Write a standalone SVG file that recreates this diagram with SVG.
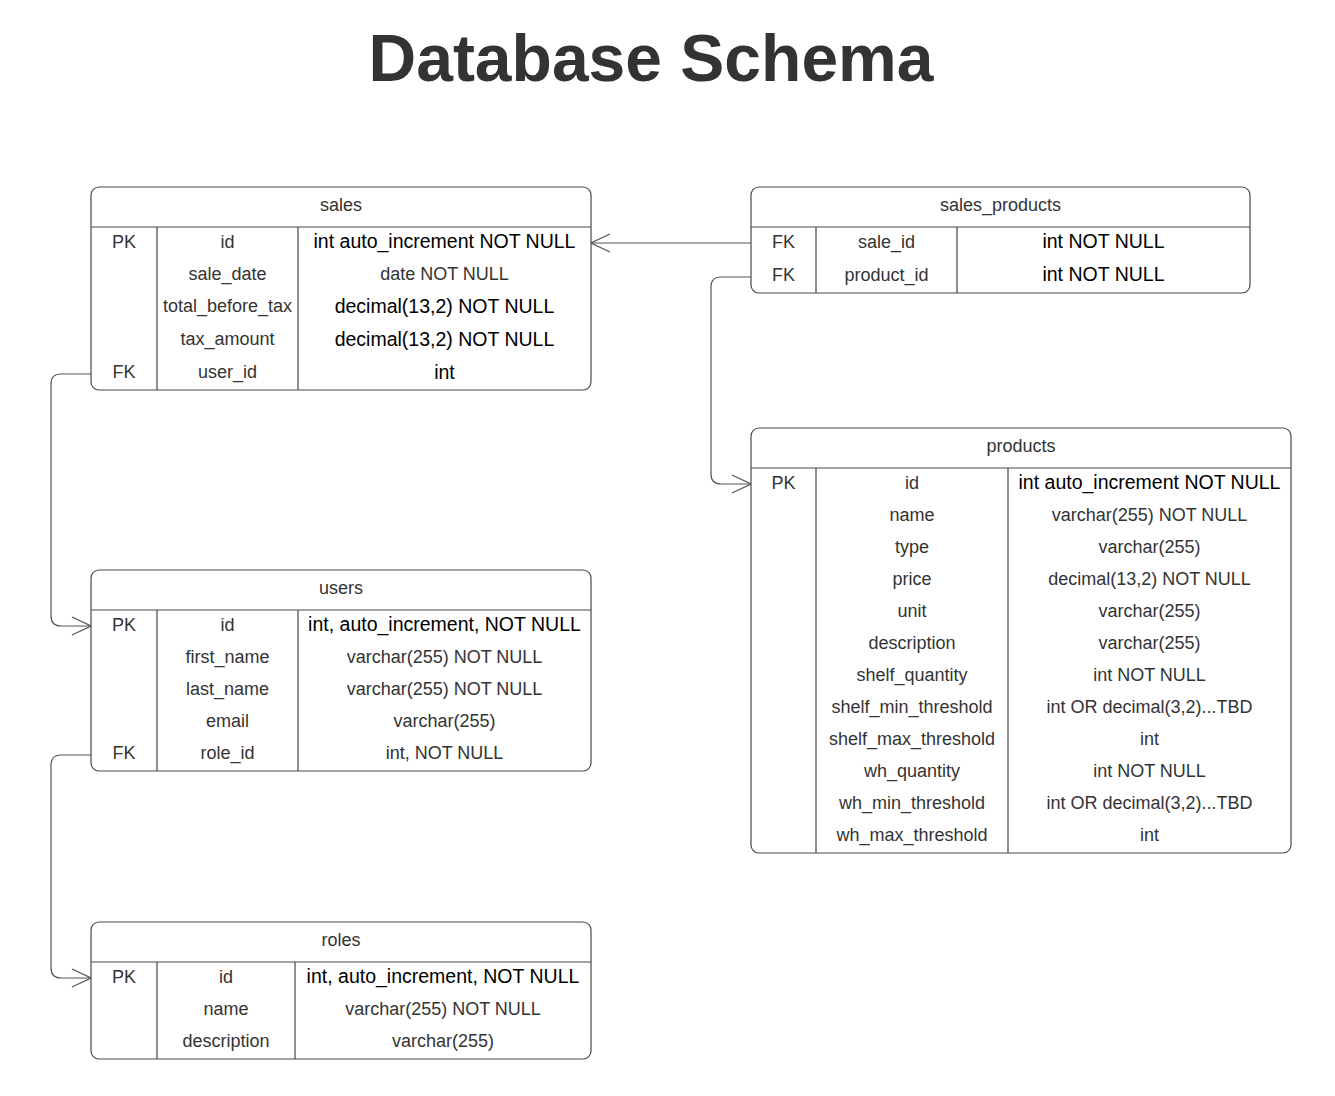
<svg xmlns="http://www.w3.org/2000/svg" width="1335" height="1096" viewBox="0 0 1335 1096">
<style>
.box{fill:#fff;stroke:#4a4a4a;stroke-width:1.2}
.ln{stroke:#4a4a4a;stroke-width:1.2;fill:none}
.cn{stroke:#555;stroke-width:1.2;fill:none}
text{font-family:"Liberation Sans",Arial,sans-serif;text-anchor:middle}
.g{font-size:18px;fill:#333}
.b{font-size:19.5px;fill:#000}
.t{font-size:66px;font-weight:bold;fill:#333}
</style>
<defs>
<marker id="arr" viewBox="0 0 20 20" refX="20" refY="10" markerWidth="20" markerHeight="20" markerUnits="userSpaceOnUse" orient="auto">
<path d="M1,1 L20,10 L1,19" fill="none" stroke="#555" stroke-width="1.2"/>
</marker>
</defs>
<rect width="1335" height="1096" fill="#fff"/>
<text class="t" x="651" y="81">Database Schema</text>

<g id="connectors">
<path class="cn" d="M751,243 H591" marker-end="url(#arr)"/>
<path class="cn" d="M751,277 H721 Q711,277 711,287 V474 Q711,484 721,484 H751" marker-end="url(#arr)"/>
<path class="cn" d="M91,374 H61 Q51,374 51,384 V616 Q51,626 61,626 H91" marker-end="url(#arr)"/>
<path class="cn" d="M91,755 H61 Q51,755 51,765 V968 Q51,978 61,978 H91" marker-end="url(#arr)"/>
</g>

<g id="sales">
<rect class="box" x="91" y="187" width="500" height="203" rx="8"/>
<path class="ln" d="M91,227 H591 M157,227 V390 M298,227 V390"/>
<text class="g" x="341" y="211">sales</text>
<text class="g" x="124" y="247.5">PK</text>
<text class="g" x="227.5" y="247.5">id</text>
<text class="b" x="444.5" y="248">int auto_increment NOT NULL</text>
<text class="g" x="227.5" y="280">sale_date</text>
<text class="g" x="444.5" y="280">date NOT NULL</text>
<text class="g" x="227.5" y="312">total_before_tax</text>
<text class="b" x="444.5" y="312.5">decimal(13,2) NOT NULL</text>
<text class="g" x="227.5" y="345">tax_amount</text>
<text class="b" x="444.5" y="345.5">decimal(13,2) NOT NULL</text>
<text class="g" x="124" y="378">FK</text>
<text class="g" x="227.5" y="378">user_id</text>
<text class="b" x="444.5" y="378.5">int</text>
</g>

<g id="sales_products">
<rect class="box" x="751" y="187" width="499" height="106" rx="8"/>
<path class="ln" d="M751,227 H1250 M816,227 V293 M957,227 V293"/>
<text class="g" x="1000.5" y="211">sales_products</text>
<text class="g" x="783.5" y="247.5">FK</text>
<text class="g" x="886.5" y="247.5">sale_id</text>
<text class="b" x="1103.5" y="248">int NOT NULL</text>
<text class="g" x="783.5" y="280.5">FK</text>
<text class="g" x="886.5" y="280.5">product_id</text>
<text class="b" x="1103.5" y="281">int NOT NULL</text>
</g>

<g id="products">
<rect class="box" x="751" y="428" width="540" height="425" rx="8"/>
<path class="ln" d="M751,468 H1291 M816,468 V853 M1008,468 V853"/>
<text class="g" x="1021" y="452">products</text>
<text class="g" x="783.5" y="488.5">PK</text>
<text class="g" x="912" y="488.5">id</text>
<text class="b" x="1149.5" y="489">int auto_increment NOT NULL</text>
<text class="g" x="912" y="520.5">name</text>
<text class="g" x="1149.5" y="520.5">varchar(255) NOT NULL</text>
<text class="g" x="912" y="552.5">type</text>
<text class="g" x="1149.5" y="552.5">varchar(255)</text>
<text class="g" x="912" y="584.5">price</text>
<text class="g" x="1149.5" y="584.5">decimal(13,2) NOT NULL</text>
<text class="g" x="912" y="616.5">unit</text>
<text class="g" x="1149.5" y="616.5">varchar(255)</text>
<text class="g" x="912" y="648.5">description</text>
<text class="g" x="1149.5" y="648.5">varchar(255)</text>
<text class="g" x="912" y="680.5">shelf_quantity</text>
<text class="g" x="1149.5" y="680.5">int NOT NULL</text>
<text class="g" x="912" y="712.5">shelf_min_threshold</text>
<text class="g" x="1149.5" y="712.5">int OR decimal(3,2)...TBD</text>
<text class="g" x="912" y="744.5">shelf_max_threshold</text>
<text class="g" x="1149.5" y="744.5">int</text>
<text class="g" x="912" y="776.5">wh_quantity</text>
<text class="g" x="1149.5" y="776.5">int NOT NULL</text>
<text class="g" x="912" y="808.5">wh_min_threshold</text>
<text class="g" x="1149.5" y="808.5">int OR decimal(3,2)...TBD</text>
<text class="g" x="912" y="840.5">wh_max_threshold</text>
<text class="g" x="1149.5" y="840.5">int</text>
</g>

<g id="users">
<rect class="box" x="91" y="570" width="500" height="201" rx="8"/>
<path class="ln" d="M91,610 H591 M157,610 V771 M298,610 V771"/>
<text class="g" x="341" y="594">users</text>
<text class="g" x="124" y="630.5">PK</text>
<text class="g" x="227.5" y="630.5">id</text>
<text class="b" x="444.5" y="631">int, auto_increment, NOT NULL</text>
<text class="g" x="227.5" y="662.5">first_name</text>
<text class="g" x="444.5" y="662.5">varchar(255) NOT NULL</text>
<text class="g" x="227.5" y="694.5">last_name</text>
<text class="g" x="444.5" y="694.5">varchar(255) NOT NULL</text>
<text class="g" x="227.5" y="726.5">email</text>
<text class="g" x="444.5" y="726.5">varchar(255)</text>
<text class="g" x="124" y="758.5">FK</text>
<text class="g" x="227.5" y="758.5">role_id</text>
<text class="g" x="444.5" y="758.5">int, NOT NULL</text>
</g>

<g id="roles">
<rect class="box" x="91" y="922" width="500" height="137" rx="8"/>
<path class="ln" d="M91,962 H591 M157,962 V1059 M295,962 V1059"/>
<text class="g" x="341" y="946">roles</text>
<text class="g" x="124" y="982.5">PK</text>
<text class="g" x="226" y="982.5">id</text>
<text class="b" x="443" y="983">int, auto_increment, NOT NULL</text>
<text class="g" x="226" y="1014.5">name</text>
<text class="g" x="443" y="1014.5">varchar(255) NOT NULL</text>
<text class="g" x="226" y="1046.5">description</text>
<text class="g" x="443" y="1046.5">varchar(255)</text>
</g>
</svg>
